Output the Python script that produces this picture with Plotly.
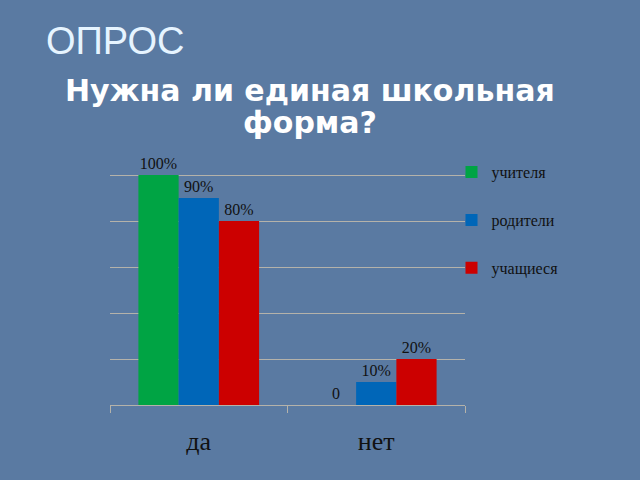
import plotly.graph_objects as go

# survey data
categories = ["да", "нет"]
groups = ["учителя", "родители", "учащиеся"]
values = {
    "учителя": [1.0, 0.0],
    "родители": [0.9, 0.1],
    "учащиеся": [0.8, 0.2],
}
labels = {
    "учителя": ["100%", "0"],
    "родители": ["90%", "10%"],
    "учащиеся": ["80%", "20%"],
}
colors = {
    "учителя": "#00a444",
    "родители": "#0066b8",
    "учащиеся": "#cc0000",
}

fig = go.Figure()
for g in groups:
    fig.add_trace(go.Bar(
        x=categories, y=values[g], name=g,
        text=labels[g], textposition="outside",
        textfont=dict(family="Liberation Serif", size=16, color="#111111"),
        marker=dict(color=colors[g], line=dict(width=0)),
        legendgroup=g, cliponaxis=False,
    ))

bg = "#5a7aa2"
grid = "#b4b2aa"
fig.update_layout(
    width=640, height=480,
    margin=dict(l=110, r=175, t=129, b=75),
    paper_bgcolor=bg, plot_bgcolor="rgba(0,0,0,0)",
    barmode="group", bargap=0.32, bargroupgap=0,
    showlegend=True,
    legend=dict(x=0.962, y=0.905, xanchor="left", yanchor="top",
                font=dict(family="Liberation Serif", size=16, color="#111111"),
                tracegroupgap=24, bgcolor="rgba(0,0,0,0)"),
    xaxis=dict(showline=True, linecolor=grid, linewidth=1,
               ticks="outside", tickson="boundaries", ticklen=7, tickcolor=grid,
               tickfont=dict(family="Liberation Serif", size=26, color="#111111"),
               ticklabelstandoff=13, showgrid=False),
    yaxis=dict(range=[0, 1.2], dtick=0.2, showticklabels=False,
               showgrid=True, gridcolor=grid, gridwidth=1,
               zeroline=False, showline=False),
    annotations=[
        dict(text="ОПРОС", xref="paper", yref="paper", x=-0.187, y=1.32,
             xanchor="left", yanchor="middle", showarrow=False,
             font=dict(family="Liberation Sans Narrow, Liberation Sans", size=38, color="#e6f4ff")),
        dict(text="<b>Нужна ли единая школьная</b>", xref="paper", yref="paper",
             x=0.563, y=1.141, xanchor="center", yanchor="middle", showarrow=False,
             font=dict(family="DejaVu Sans", size=30, color="#ffffff")),
        dict(text="<b>форма?</b>", xref="paper", yref="paper",
             x=0.563, y=1.022, xanchor="center", yanchor="middle", showarrow=False,
             font=dict(family="DejaVu Sans", size=30, color="#ffffff")),
    ],
)

fig.write_html("out.html", config={"displayModeBar": False},
               post_script="document.body.style.margin='0';")
